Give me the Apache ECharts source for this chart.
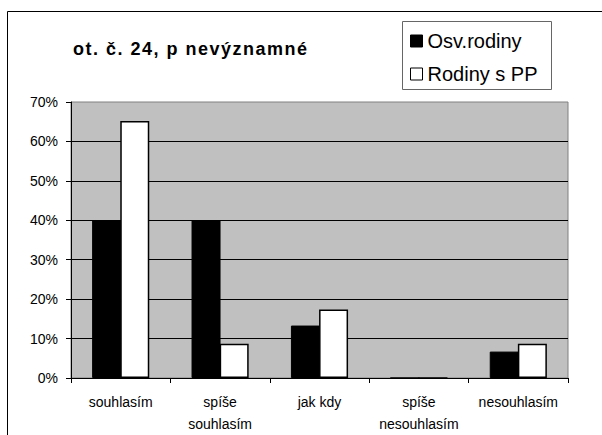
<!DOCTYPE html>
<html>
<head>
<meta charset="utf-8">
<script src="https://cdn.jsdelivr.net/npm/echarts@6/dist/echarts.min.js"></script>
<style>
  html, body { margin: 0; padding: 0; background: #fff; }
  #main { width: 602px; height: 435px; }
</style>
</head>
<body>
<div id="main"></div>
<script>
// data (percent)
var categories = ['souhlasím', 'spíše\nsouhlasím', 'jak kdy', 'spíše\nnesouhlasím', 'nesouhlasím'];
var osvRodiny = [40, 40, 13.3, 0, 6.7];
var rodinyPP = [65.2, 8.7, 17.4, 0, 8.7];
var yTicks = [0, 10, 20, 30, 40, 50, 60, 70];
var titleText = 'ot. č. 24, p nevýznamné';

var font = 'Arial, "Liberation Sans", sans-serif';
var chart = echarts.init(document.getElementById('main'), null, { renderer: 'svg' });

chart.setOption({
    animation: false,
    backgroundColor: '#fff',
    title: {
        text: titleText,
        left: 73,
        top: 40,
        padding: 0,
        textStyle: { fontFamily: font, fontSize: 18, fontWeight: 'bold', color: '#000' }
    },
    legend: {
        orient: 'vertical',
        left: 410,
        top: 30,
        padding: 0,
        itemWidth: 12,
        itemHeight: 12,
        itemGap: 11,
        icon: 'rect',
        textStyle: { fontFamily: font, fontSize: 20, color: '#000', lineHeight: 22 },
        data: [
            { name: 'Osv.rodiny', itemStyle: { color: '#000', borderColor: '#000', borderWidth: 1 } },
            { name: 'Rodiny s PP', itemStyle: { color: '#fff', borderColor: '#000', borderWidth: 1 } }
        ]
    },
    graphic: [
        // outer frame (only top and left edges are inside the picture)
        { type: 'rect', shape: { x: 7.5, y: 11.5, width: 700, height: 600 },
          style: { fill: 'none', stroke: '#000', lineWidth: 1 }, silent: true, z: 100 },
        // legend box
        { type: 'rect', shape: { x: 402.5, y: 21.5, width: 149, height: 68 },
          style: { fill: 'none', stroke: '#666', lineWidth: 1 }, silent: true, z: 100 }
    ],
    grid: {
        left: 71,
        right: 34,
        top: 102,
        bottom: 55,
        show: true,
        backgroundColor: '#C0C0C0',
        borderColor: '#808080',
        borderWidth: 1
    },
    xAxis: {
        type: 'category',
        data: categories,
        axisLine: { lineStyle: { color: '#000', width: 1 } },
        axisTick: { show: true, alignWithLabel: false, length: 5, lineStyle: { color: '#000' } },
        axisLabel: { fontFamily: font, fontSize: 14, color: '#000', margin: 13, lineHeight: 22, interval: 0 }
    },
    yAxis: {
        type: 'value',
        min: yTicks[0],
        max: yTicks[yTicks.length - 1],
        interval: 10,
        axisLine: { show: true, lineStyle: { color: '#000', width: 1 } },
        axisTick: { show: true, length: 5, lineStyle: { color: '#000' } },
        axisLabel: { fontFamily: font, fontSize: 14, color: '#000', margin: 13, formatter: '{value}%' },
        splitLine: { show: true, showMaxLine: false, lineStyle: { color: '#000', width: 1 } }
    },
    series: [
        {
            name: 'Osv.rodiny',
            type: 'bar',
            data: osvRodiny,
            barWidth: 29,
            barGap: '-3%',
            itemStyle: { color: '#000', borderColor: '#000', borderWidth: 1 }
        },
        {
            name: 'Rodiny s PP',
            type: 'bar',
            data: rodinyPP,
            barWidth: 29,
            itemStyle: { color: '#fff', borderColor: '#000', borderWidth: 1.5 }
        }
    ]
});

// the original title is drawn with a little extra letter spacing
document.querySelectorAll('#main svg text').forEach(function (t) {
    if (t.textContent === titleText) {
        t.setAttribute('letter-spacing', '1.5');
    }
});
</script>
</body>
</html>
